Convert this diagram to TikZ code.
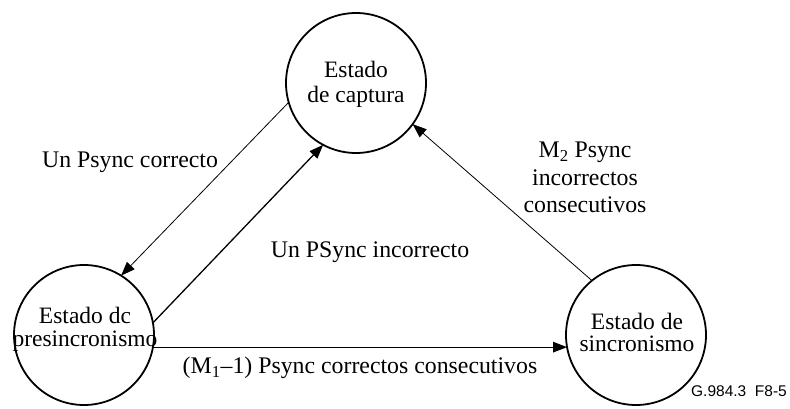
\documentclass[tikz,border=0pt]{standalone}
\usepackage{fontspec}
\setmainfont{Liberation Serif}
\setsansfont{Liberation Sans}
\usetikzlibrary{arrows.meta}
\begin{document}
\begin{tikzpicture}[x=1pt,y=-1pt,
  state/.style={circle,draw,line width=1.8pt,minimum size=140pt,inner sep=0pt,outer sep=0pt},
  txt/.style={align=center,inner sep=0pt,font=\fontsize{23.5}{25}\selectfont},
  lbl/.style={align=center,inner sep=0pt,font=\fontsize{23.8}{27.5}\selectfont},
  conthin/.style={line width=0.8pt,-{Triangle[length=14pt,width=10.5pt]}},
  conthick/.style={line width=1.3pt,-{Triangle[length=14pt,width=10.5pt]}}]
\useasboundingbox (0,0) rectangle (790,409);
% states
\node[state] (cap) at (356,83) {};
\node[state] (pre) at (84,335) {};
\node[state] (sin) at (636,335) {};
\node[txt] (captxt) at (356,84) {Estado\\de captura};
\node[txt,font=\fontsize{23.5}{23}\selectfont] (pretxt) at (85,329) {Estado dc\\presincronismo};
\node[txt,font=\fontsize{23.5}{22}\selectfont] (sintxt) at (637,332) {Estado de\\sincronismo};
% connectors
\draw[conthin] (cap.196) -- (pre.58);
\draw[conthick] (pre.10.7) -- (cap.242.7);
\draw[conthin] (sin.129.4) -- (cap.324.4);
\draw[conthick] (pre.-10.7) -- (sin.190.7);
% labels
\node[lbl] (l1) at (130,162.7) {Un Psync correcto};
\node[lbl] (l2) at (370,251.7) {Un PSync incorrecto};
\node[lbl] (l3) at (585,177.7) {M\textsubscript{2} Psync\\incorrectos\\consecutivos};
\node[lbl] (l4) at (360,367.7) {(M\textsubscript{1}–1) Psync correctos consecutivos};
\node[anchor=base east,inner sep=0pt,font=\sffamily\fontsize{15.5}{18}\selectfont] (fig) at (787,396) {G.984.3\ \ F8-5};
\end{tikzpicture}
\end{document}
